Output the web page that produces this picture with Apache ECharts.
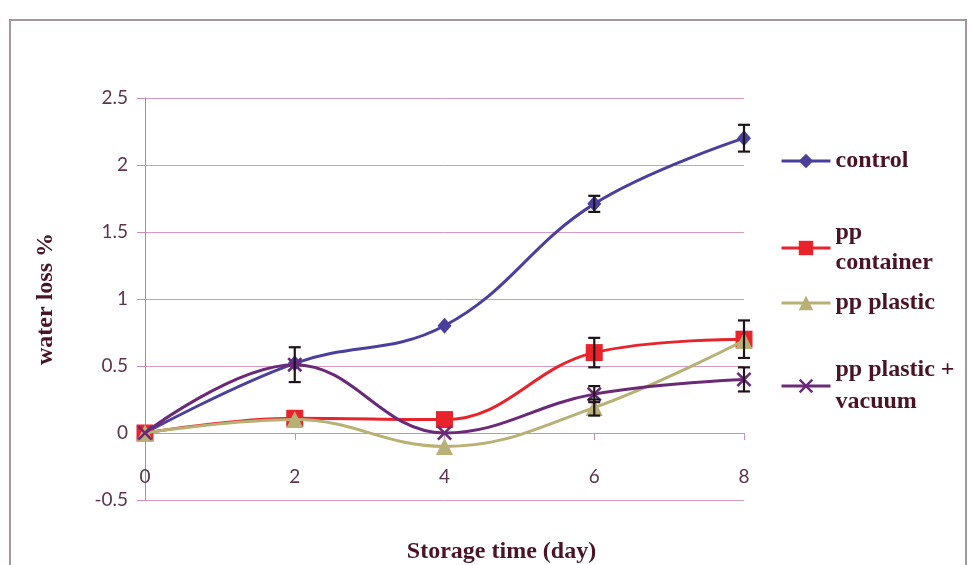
<!DOCTYPE html>
<html><head><meta charset="utf-8">
<script src="https://cdn.jsdelivr.net/npm/echarts@6/dist/echarts.min.js"></script>
<style>html,body{margin:0;padding:0;background:#fff}#c{width:969px;height:565px}</style>
</head><body><div id="c"></div>
<script>
const days = [0, 2, 4, 6, 8];
const yTicks = [-0.5, 0, 0.5, 1, 1.5, 2, 2.5];
const seriesNames = ['control', 'pp container', 'pp plastic', 'pp plastic + vacuum'];
const control = [0, 0.52, 0.80, 1.71, 2.20];
const ppContainer = [0, 0.11, 0.10, 0.60, 0.70];
const ppPlastic = [0, 0.10, -0.10, 0.19, 0.69];
const ppVacuum = [0, 0.51, 0.00, 0.29, 0.40];
const controlErr = [0, 0, 0, 0.06, 0.10];
const containerErr = [0, 0, 0, 0.11, 0.14];
const plasticErr = [0, 0, 0, 0.06, 0];
const vacuumErr = [0, 0.13, 0, 0.06, 0.09];

const colors = ['#4a3f9c', '#e8232c', '#b8b074', '#6b2a78'];
const symbols = ['diamond', 'rect', 'triangle',
  'path://M0,1.2 L1.2,0 L5,3.8 L8.8,0 L10,1.2 L6.2,5 L10,8.8 L8.8,10 L5,6.2 L1.2,10 L0,8.8 L3.8,5 Z'];
const symSizes = [[14, 16], 17, 17, 15];
const values = [control, ppContainer, ppPlastic, ppVacuum];
const errs = [controlErr, containerErr, plasticErr, vacuumErr];

const chart = echarts.init(document.getElementById('c'));
const lineSeries = seriesNames.map((n, i) => ({
  name: n, type: 'line', smooth: 0.4,
  data: days.map((d, j) => [d, values[i][j]]),
  symbol: symbols[i], symbolSize: symSizes[i],
  lineStyle: { color: colors[i], width: 3 },
  itemStyle: { color: colors[i] },
  z: 3 + i, animation: false
}));
const errData = [];
errs.forEach((arr, i) => arr.forEach((e, j) => { if (e > 0) errData.push([days[j], values[i][j] - e, values[i][j] + e]); }));
const errSeries = {
  type: 'custom', name: 'err', z: 10, animation: false, silent: true,
  data: errData,
  renderItem: function (params, api) {
    const x = api.value(0);
    const lo = api.coord([x, api.value(1)]);
    const hi = api.coord([x, api.value(2)]);
    const w = 6;
    const st = { stroke: '#1c1418', lineWidth: 2.2, fill: null };
    return { type: 'group', children: [
      { type: 'line', shape: { x1: lo[0], y1: lo[1], x2: hi[0], y2: hi[1] }, style: st },
      { type: 'line', shape: { x1: lo[0] - w, y1: lo[1], x2: lo[0] + w, y2: lo[1] }, style: st },
      { type: 'line', shape: { x1: hi[0] - w, y1: hi[1], x2: hi[0] + w, y2: hi[1] }, style: st }
    ]};
  }
};
const legendTop = [146, 233, 288, 370];
const legendFmt = ['control', 'pp\ncontainer', 'pp plastic', 'pp plastic +\nvacuum'];
const legends = seriesNames.map((n, i) => {
  const two = legendFmt[i].indexOf('\n') >= 0;
  const lh = i === 3 ? 32 : 30;
  return {
    data: [n], left: 780, top: two ? legendTop[i] - lh : legendTop[i], padding: 0,
    itemWidth: 49, itemHeight: 18, itemGap: 3, orient: 'vertical',
    formatter: () => legendFmt[i], selectedMode: false,
    lineStyle: { width: 3 },
    textStyle: { fontFamily: 'Liberation Serif', fontWeight: 'bold', fontSize: 24, color: '#4a1424',
      lineHeight: lh, padding: two ? [lh, 0, 0, 0] : 0 }
  };
});

chart.setOption({
  animation: false,
  backgroundColor: '#ffffff',
  grid: { left: 145, right: 225, top: 98, bottom: 65, outerBoundsMode: 'none', containLabel: false },
  legend: legends,
  xAxis: {
    type: 'value', min: 0, max: 8, interval: 2,
    name: 'Storage time (day)', nameLocation: 'middle', nameGap: 40,
    nameTextStyle: { fontFamily: 'Liberation Serif', fontWeight: 'bold', fontSize: 24, color: '#4a1424',
      padding: [0, 0, 0, 114] },
    axisLine: { onZero: true, lineStyle: { color: '#d08cbc', width: 1 } },
    axisTick: { show: true, length: 7, lineStyle: { color: '#d08cbc' } },
    axisLabel: { margin: -33, fontFamily: 'Lato', fontSize: 19, color: '#5c3450' },
    splitLine: { show: false }
  },
  yAxis: {
    type: 'value', min: -0.5, max: 2.5, interval: 0.5,
    name: 'water loss %', nameLocation: 'middle', nameGap: 87, nameRotate: 90,
    nameTextStyle: { fontFamily: 'Liberation Serif', fontWeight: 'bold', fontSize: 24, color: '#4a1424' },
    axisLine: { show: true, onZero: false, lineStyle: { color: '#c07cb0', width: 1 } },
    axisTick: { show: true, length: 8, lineStyle: { color: '#d08cbc' } },
    axisLabel: { margin: 17, fontFamily: 'Lato', fontSize: 19, color: '#5c3450',
      formatter: v => String(v) },
    splitLine: { show: true, lineStyle: { color: '#d69ac4', width: 1 } }
  },
  graphic: [
    { type: 'rect', shape: { x: 10, y: 20, width: 956, height: 560 }, style: { fill: null, stroke: '#a8969f', lineWidth: 2 }, silent: true }
  ],
  series: lineSeries.concat([errSeries])
});
</script></body></html>
